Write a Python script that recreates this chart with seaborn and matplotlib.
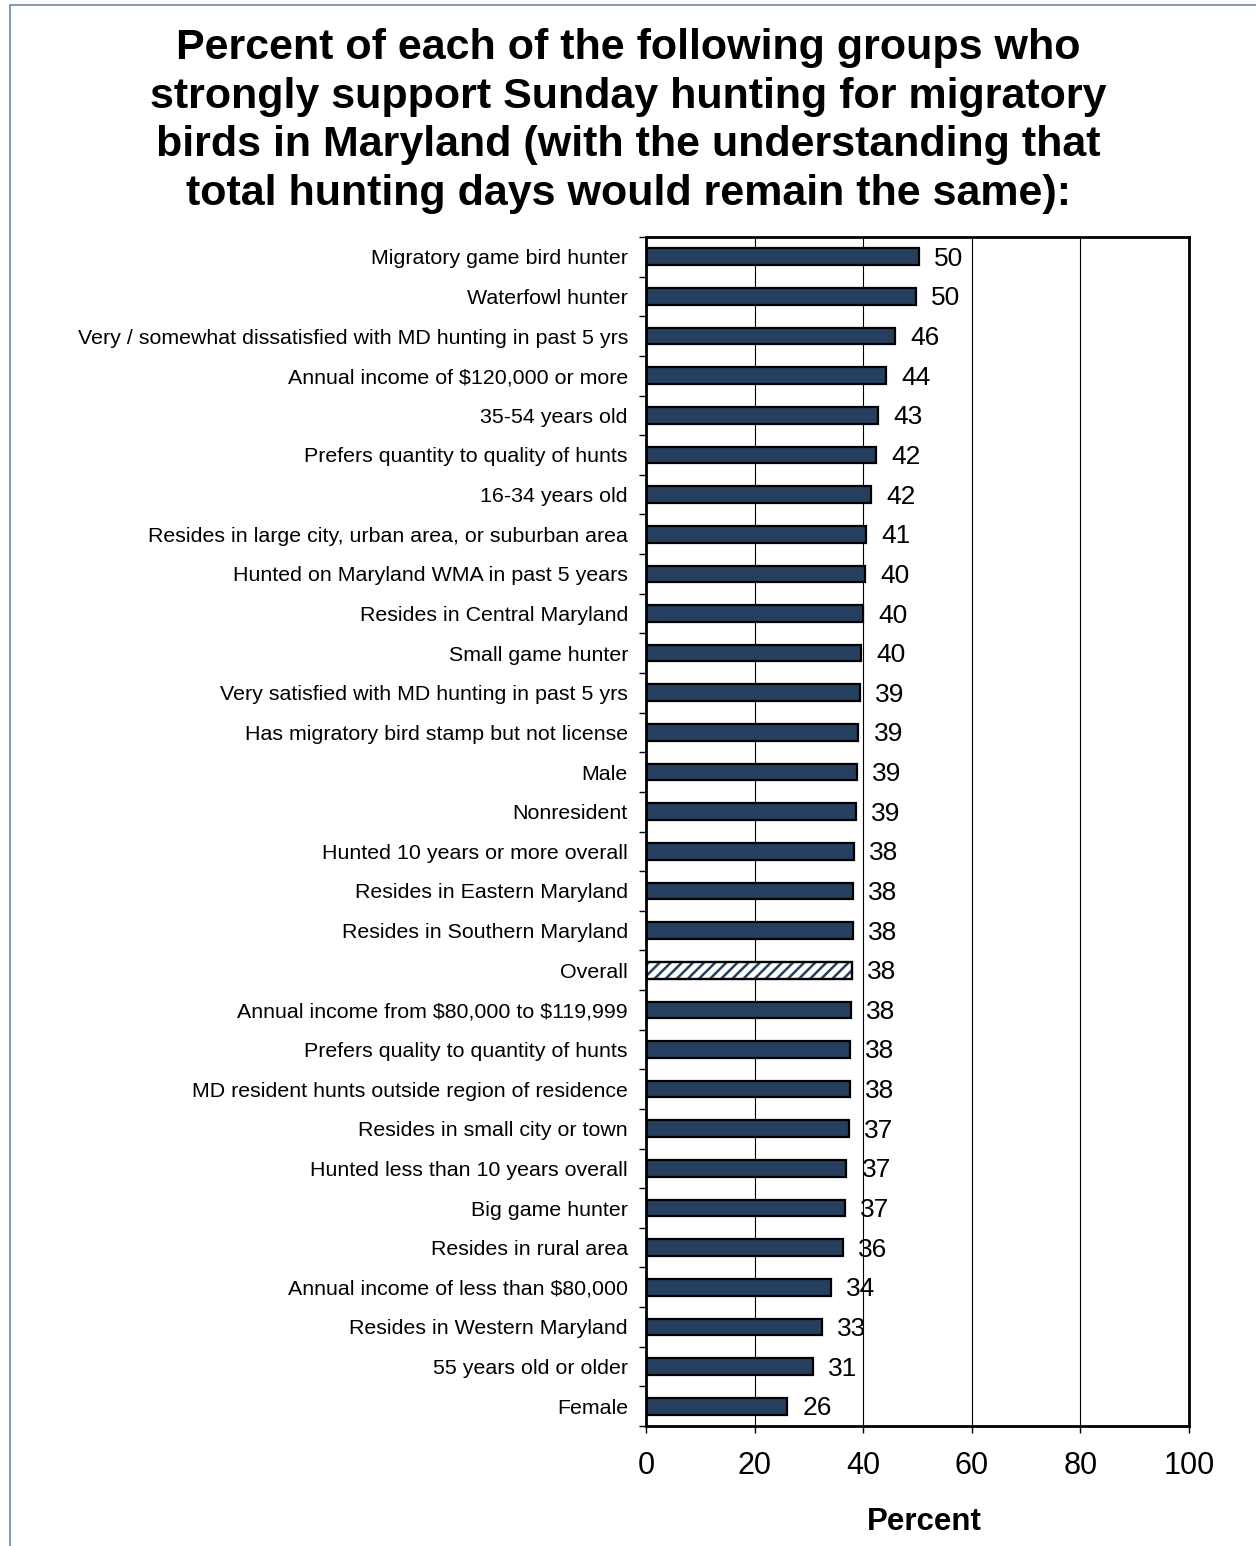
import seaborn as sns
import matplotlib.pyplot as plt
import pandas as pd
import numpy as np
from matplotlib.patches import Rectangle

# groups, top to bottom
groups = [
    "Migratory game bird hunter",
    "Waterfowl hunter",
    "Very / somewhat dissatisfied with MD hunting in past 5 yrs",
    "Annual income of $120,000 or more",
    "35-54 years old",
    "Prefers quantity to quality of hunts",
    "16-34 years old",
    "Resides in large city, urban area, or suburban area",
    "Hunted on Maryland WMA in past 5 years",
    "Resides in Central Maryland",
    "Small game hunter",
    "Very satisfied with MD hunting in past 5 yrs",
    "Has migratory bird stamp but not license",
    "Male",
    "Nonresident",
    "Hunted 10 years or more overall",
    "Resides in Eastern Maryland",
    "Resides in Southern Maryland",
    "Overall",
    "Annual income from $80,000 to $119,999",
    "Prefers quality to quantity of hunts",
    "MD resident hunts outside region of residence",
    "Resides in small city or town",
    "Hunted less than 10 years overall",
    "Big game hunter",
    "Resides in rural area",
    "Annual income of less than $80,000",
    "Resides in Western Maryland",
    "55 years old or older",
    "Female",
]

# bar lengths as drawn
values = [50.3, 49.7, 45.9, 44.2, 42.8, 42.4, 41.5, 40.6, 40.3, 40.0,
          39.6, 39.4, 39.1, 38.8, 38.6, 38.3, 38.1, 38.1, 37.9, 37.8,
          37.6, 37.5, 37.4, 36.9, 36.6, 36.3, 34.1, 32.4, 30.8, 26.0]

# printed value labels
labels = [50, 50, 46, 44, 43, 42, 42, 41, 40, 40,
          40, 39, 39, 39, 39, 38, 38, 38, 38, 38,
          38, 38, 37, 37, 37, 36, 34, 33, 31, 26]

df = pd.DataFrame({"group": [g.replace("$", r"\$") for g in groups],
                   "percent": values})

bar_color = "#263F5F"

sns.set_style("white")
plt.rcParams["font.family"] = ["Liberation Sans", "DejaVu Sans"]
plt.rcParams["text.color"] = "black"
plt.rcParams["axes.labelcolor"] = "black"
plt.rcParams["xtick.color"] = "black"
plt.rcParams["ytick.color"] = "black"
plt.rcParams["hatch.linewidth"] = 1.8

fig = plt.figure(figsize=(12.56, 15.46), dpi=100, facecolor="white")
ax = fig.add_axes([0.5143, 0.0776, 0.4324, 0.7691])

sns.barplot(data=df, x="percent", y="group", orient="h", color=bar_color,
            width=0.42, edgecolor="black", linewidth=1.6, saturation=1, ax=ax)

# overall bar is hatched in the bar colour, with a black outline on top
overall = groups.index("Overall")
p = ax.patches[overall]
p.set_facecolor("white")
p.set_edgecolor(bar_color)
p.set_hatch("///")
ax.add_patch(Rectangle((p.get_x(), p.get_y()), p.get_width(), p.get_height(),
                       fill=False, edgecolor="black", linewidth=1.6, zorder=p.get_zorder() + 0.1))

# value labels
for i, (v, lab) in enumerate(zip(values, labels)):
    ax.text(v + 2.8, i + 0.05, str(lab), va="center", ha="left", fontsize=19)

ax.set_xlim(0, 100)
ax.set_ylim(len(groups) - 0.5, -0.5)
ax.set_xticks([0, 20, 40, 60, 80, 100])
ax.tick_params(axis="x", labelsize=22, length=5, width=1, pad=13, bottom=True)
ax.tick_params(axis="y", which="major", labelsize=15.4, length=0, pad=13)
ax.set_yticks(np.arange(len(groups) + 1) - 0.5, minor=True)
ax.tick_params(axis="y", which="minor", length=5, width=1, left=True)

ax.grid(axis="x", color="black", linewidth=0.8)
ax.set_axisbelow(True)
for s in ax.spines.values():
    s.set_visible(True)
    s.set_color("black")
    s.set_linewidth(2)

ax.set_xlabel("Percent", fontsize=22.5, fontweight="bold", labelpad=20)
ax.xaxis.set_label_coords(0.512, -0.068)
ax.set_ylabel("")

fig.text(0.5, 0.982,
         "Percent of each of the following groups who\n"
         "strongly support Sunday hunting for migratory\n"
         "birds in Maryland (with the understanding that\n"
         "total hunting days would remain the same):",
         ha="center", va="top", fontsize=31, fontweight="bold", linespacing=1.285)

# slide frame on the left/top
fig.patches.append(Rectangle((0.008, -0.1), 1.2, 1.097, transform=fig.transFigure,
                             fill=False, edgecolor="#7088A8", linewidth=1.2))

fig.savefig("out.png", dpi=100, facecolor="white")
